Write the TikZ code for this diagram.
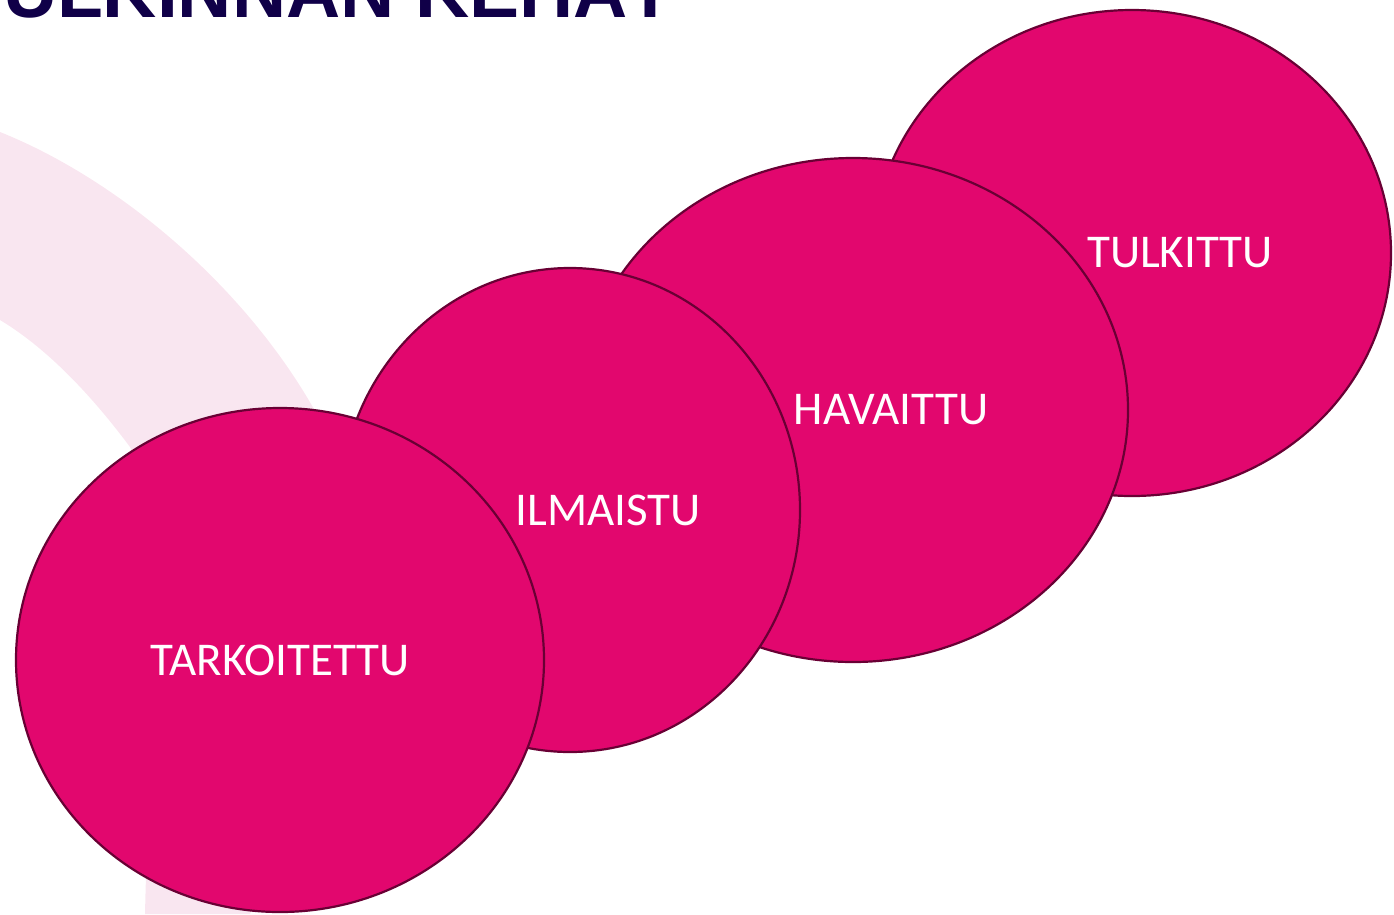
\documentclass[tikz,border=0pt]{standalone}
\usepackage{fontspec}
\usepackage{xcolor}
\usetikzlibrary{shapes.geometric}

\newfontfamily\calib{Carlito}
\newfontfamily\titrefont{Liberation Sans}

\definecolor{rose}{RGB}{226,7,110}
\definecolor{bordeau}{RGB}{105,0,52}
\definecolor{rosepale}{RGB}{249,230,240}
\definecolor{marine}{RGB}{16,0,72}

\begin{document}
\begin{tikzpicture}[x=1pt, y=-1pt,
    cercle/.style={ellipse, draw=bordeau, line width=2.2pt, fill=rose, inner sep=0pt},
    etiquette/.style={text=white, font=\calib\fontsize{47}{51}\selectfont, inner sep=0pt}]

    % Cadre de l'image
    \useasboundingbox (0,0) rectangle (1394,914);
    \clip (0,0) rectangle (1394,914);

    % Arc de fond (rose pâle)
    \fill[rosepale] (0,132) .. controls (120,180) and (250,290) .. (320,420)
        .. controls (370,540) and (290,800) .. (250,914) -- (145,914)
        .. controls (150,700) and (165,520) .. (130,447)
        .. controls (95,400) and (50,350) .. (0,320) -- cycle;

    % Titre (coupé en haut)
    \node[anchor=base east, text=marine, inner sep=0pt,
          font=\titrefont\bfseries\fontsize{75}{80}\selectfont] (titre) at (674,17) {TULKINNAN KEHÄT};

    % Cercles, du fond vers l'avant
    \node[cercle, minimum width=518pt, minimum height=486pt] (tulkittu) at (1132,253) {};
    \node[etiquette] (tulkittu-txt) at ([xshift=48pt]tulkittu.center) {TULKITTU};

    \node[cercle, minimum width=550pt, minimum height=504pt] (havaittu) at (853,410) {};
    \node[etiquette] (havaittu-txt) at ([xshift=38pt]havaittu.center) {HAVAITTU};

    \node[cercle, minimum width=460pt, minimum height=484pt] (ilmaistu) at (570,510) {};
    \node[etiquette] (ilmaistu-txt) at ([xshift=38pt]ilmaistu.center) {ILMAISTU};

    \node[cercle, minimum width=528pt, minimum height=504pt] (tarkoitettu) at (280,660) {};
    \node[etiquette] (tarkoitettu-txt) at (tarkoitettu.center) {TARKOITETTU};

\end{tikzpicture}
\end{document}
